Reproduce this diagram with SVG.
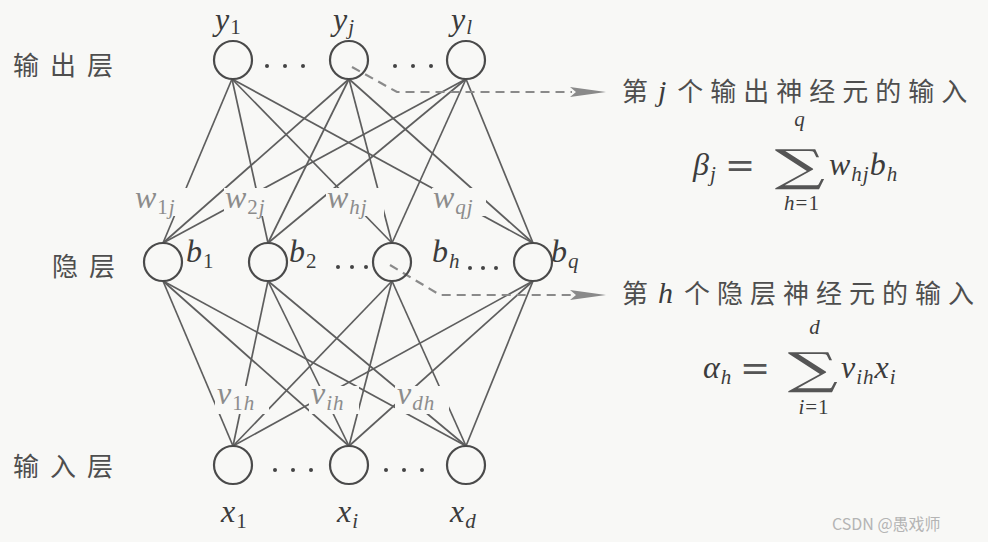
<svg xmlns="http://www.w3.org/2000/svg" width="988" height="542" viewBox="0 0 988 542">
<style>
.bg{fill:#f8f8f6}
.node{fill:none;stroke:#4a4a4a;stroke-width:2.2}
.edge{stroke:#5e5e5e;stroke-width:1.7;fill:none}
.dash{stroke:#8a8a8a;stroke-width:2.2;stroke-dasharray:9 6;fill:none}
.m{font-family:"Liberation Serif",serif;font-style:italic;font-size:32px;fill:#3c3c3c;letter-spacing:1px}
.s{font-size:21px}
.n{font-style:normal}
.w{fill:#8c8c8c}
.cn{font-family:"Noto Sans CJK SC",sans-serif;font-size:26px;fill:#4e4e4e}
.dot{fill:#444}
.mask{fill:#f8f8f6}
.op{font-family:"DejaVu Serif",serif;fill:#555}
</style>
<defs>
<marker id="ah" viewBox="0 0 36 12" refX="2" refY="6" markerWidth="36" markerHeight="12" markerUnits="userSpaceOnUse" orient="auto">
<path d="M0,1 L36,6 L0,11 L6,6 Z" fill="#8a8a8a"/>
</marker>
</defs>
<rect class="bg" x="0" y="0" width="988" height="542"/>

<g id="connectors">
<line class="edge" x1="232" y1="79" x2="163" y2="243"/>
<line class="edge" x1="232" y1="79" x2="268" y2="243"/>
<line class="edge" x1="232" y1="79" x2="392" y2="243"/>
<line class="edge" x1="232" y1="79" x2="533" y2="243"/>
<line class="edge" x1="349" y1="79" x2="163" y2="243"/>
<line class="edge" x1="349" y1="79" x2="268" y2="243"/>
<line class="edge" x1="349" y1="79" x2="392" y2="243"/>
<line class="edge" x1="349" y1="79" x2="533" y2="243"/>
<line class="edge" x1="466" y1="79" x2="163" y2="243"/>
<line class="edge" x1="466" y1="79" x2="268" y2="243"/>
<line class="edge" x1="466" y1="79" x2="392" y2="243"/>
<line class="edge" x1="466" y1="79" x2="533" y2="243"/>
<line class="edge" x1="163" y1="281" x2="233" y2="446"/>
<line class="edge" x1="163" y1="281" x2="349" y2="446"/>
<line class="edge" x1="163" y1="281" x2="466" y2="446"/>
<line class="edge" x1="268" y1="281" x2="233" y2="446"/>
<line class="edge" x1="268" y1="281" x2="349" y2="446"/>
<line class="edge" x1="268" y1="281" x2="466" y2="446"/>
<line class="edge" x1="392" y1="281" x2="233" y2="446"/>
<line class="edge" x1="392" y1="281" x2="349" y2="446"/>
<line class="edge" x1="392" y1="281" x2="466" y2="446"/>
<line class="edge" x1="533" y1="281" x2="233" y2="446"/>
<line class="edge" x1="533" y1="281" x2="349" y2="446"/>
<line class="edge" x1="533" y1="281" x2="466" y2="446"/>
<path class="dash" d="M352,67 L397,92 L572,92" marker-end="url(#ah)"/>
<path class="dash" d="M390,265 L440,295 L572,295" marker-end="url(#ah)"/>
</g>

<g id="weights">
<rect class="mask" x="134" y="188" width="54" height="28"/>
<text class="m w" x="135" y="208">w<tspan class="s n" dy="6">1</tspan><tspan class="s">j</tspan></text>
<rect class="mask" x="224" y="188" width="54" height="28"/>
<text class="m w" x="225" y="208">w<tspan class="s n" dy="6">2</tspan><tspan class="s">j</tspan></text>
<rect class="mask" x="326" y="188" width="58" height="28"/>
<text class="m w" x="327" y="208">w<tspan class="s" dy="6">hj</tspan></text>
<rect class="mask" x="432" y="188" width="54" height="28"/>
<text class="m w" x="433" y="208">w<tspan class="s" dy="6">qj</tspan></text>
<rect class="mask" x="215" y="386" width="54" height="28"/>
<text class="m w" x="217" y="404">v<tspan class="s n" dy="6">1</tspan><tspan class="s">h</tspan></text>
<rect class="mask" x="309" y="386" width="50" height="28"/>
<text class="m w" x="311" y="404">v<tspan class="s" dy="6">ih</tspan></text>
<rect class="mask" x="395" y="386" width="54" height="28"/>
<text class="m w" x="397" y="404">v<tspan class="s" dy="6">dh</tspan></text>
</g>

<g id="output-layer">
<text class="cn" x="13" y="75" letter-spacing="11">输出层</text>
<g id="y1"><circle class="node" cx="233" cy="60" r="19"/><text class="m" x="215" y="30">y<tspan class="s n" dy="4">1</tspan></text></g>
<g id="yj"><circle class="node" cx="349" cy="60" r="19"/><text class="m" x="333" y="30">y<tspan class="s" dy="4">j</tspan></text></g>
<g id="yl"><circle class="node" cx="466" cy="60" r="19"/><text class="m" x="451" y="30">y<tspan class="s" dy="4">l</tspan></text></g>
<circle class="dot" cx="267" cy="66" r="2"/><circle class="dot" cx="285" cy="66" r="2"/><circle class="dot" cx="303" cy="66" r="2"/>
<circle class="dot" cx="395" cy="66" r="2"/><circle class="dot" cx="413" cy="66" r="2"/><circle class="dot" cx="431" cy="66" r="2"/>
</g>

<g id="hidden-layer">
<text class="cn" x="52" y="276" letter-spacing="11">隐层</text>
<g id="b1"><circle class="node" cx="163" cy="262" r="19"/><text class="m" x="186" y="262">b<tspan class="s n" dy="6">1</tspan></text></g>
<g id="b2"><circle class="node" cx="268" cy="262" r="19"/><text class="m" x="289" y="262">b<tspan class="s n" dy="6">2</tspan></text></g>
<g id="bh"><circle class="node" cx="392" cy="262" r="19"/><text class="m" x="432" y="262">b<tspan class="s" dy="6">h</tspan></text></g>
<g id="bq"><circle class="node" cx="533" cy="262" r="19"/><text class="m" x="551" y="262">b<tspan class="s" dy="6">q</tspan></text></g>
<circle class="dot" cx="338" cy="267" r="2"/><circle class="dot" cx="352" cy="267" r="2"/><circle class="dot" cx="366" cy="267" r="2"/>
<circle class="dot" cx="470" cy="268" r="2"/><circle class="dot" cx="483" cy="268" r="2"/><circle class="dot" cx="496" cy="268" r="2"/>
</g>

<g id="input-layer">
<text class="cn" x="13" y="476" letter-spacing="11">输入层</text>
<g id="x1"><circle class="node" cx="233" cy="465" r="19"/><text class="m" x="221" y="522">x<tspan class="s n" dy="6">1</tspan></text></g>
<g id="xi"><circle class="node" cx="349" cy="465" r="19"/><text class="m" x="337" y="522">x<tspan class="s" dy="6">i</tspan></text></g>
<g id="xd"><circle class="node" cx="466" cy="465" r="19"/><text class="m" x="450" y="522">x<tspan class="s" dy="6">d</tspan></text></g>
<circle class="dot" cx="275" cy="470" r="2"/><circle class="dot" cx="293" cy="470" r="2"/><circle class="dot" cx="311" cy="470" r="2"/>
<circle class="dot" cx="386" cy="470" r="2"/><circle class="dot" cx="404" cy="470" r="2"/><circle class="dot" cx="422" cy="470" r="2"/>
</g>

<g id="annotation-output">
<text class="cn" x="622" y="101">第<tspan class="m" dx="10" style="font-size:30px">j</tspan><tspan dx="10" letter-spacing="7">个输出神经元的输入</tspan></text>
<text class="m" x="693" y="175">β<tspan class="s" dy="6">j</tspan></text>
<text class="op" x="740" y="177" font-size="36" text-anchor="middle">=</text>
<text class="op" font-size="44" text-anchor="middle" transform="translate(800,181) scale(1.6,1)">∑</text>
<text class="m s" x="800" y="126" text-anchor="middle">q</text>
<text class="m s" x="802" y="210" text-anchor="middle">h<tspan class="n">=1</tspan></text>
<text class="m" x="829" y="175">w<tspan class="s" dy="6">hj</tspan><tspan dy="-6">b</tspan><tspan class="s" dy="6">h</tspan></text>
</g>

<g id="annotation-hidden">
<text class="cn" x="622" y="303">第<tspan class="m" dx="10" style="font-size:30px">h</tspan><tspan dx="10" letter-spacing="7">个隐层神经元的输入</tspan></text>
<text class="m" x="703" y="378">α<tspan class="s" dy="6">h</tspan></text>
<text class="op" x="755" y="380" font-size="36" text-anchor="middle">=</text>
<text class="op" font-size="44" text-anchor="middle" transform="translate(813,384) scale(1.6,1)">∑</text>
<text class="m s" x="815" y="334" text-anchor="middle">d</text>
<text class="m s" x="814" y="414" text-anchor="middle">i<tspan class="n">=1</tspan></text>
<text class="m" x="841" y="378">v<tspan class="s" dy="6">ih</tspan><tspan dy="-6">x</tspan><tspan class="s" dy="6">i</tspan></text>
</g>

<text x="832" y="530" font-family="'Noto Sans CJK SC',sans-serif" font-size="16" fill="#b4b4b4">CSDN @愚戏师</text>
</svg>
